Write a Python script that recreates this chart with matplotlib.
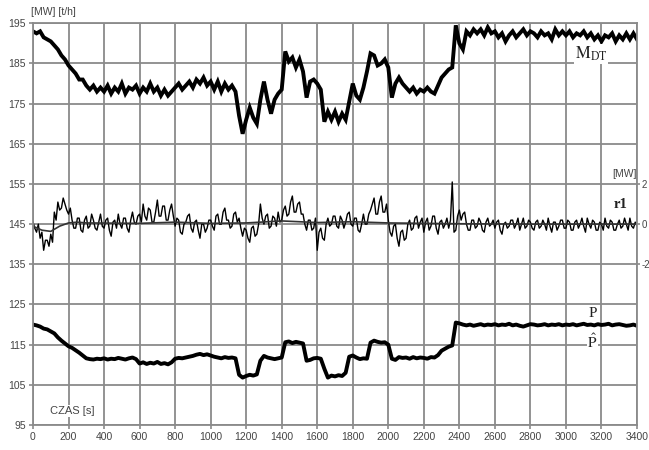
import matplotlib
matplotlib.use("Agg")
import matplotlib.pyplot as plt
import numpy as np

# time axis [s]: slow traces every 20 s, the noisy r1 trace every 10 s
t = np.arange(0, 3401, 20)
t10 = np.arange(0, 3401, 10)

# M_DT [t/h] (top trace)
mdt = [
    193, 192.5, 193, 191.5, 191, 190.5, 189.5, 188.5, 187, 186,
    184.5, 183.5, 182.5, 181, 181, 179.5, 178.5, 179.5, 178, 179,
    178, 179.5, 177.5, 179, 178, 180, 177.5, 179, 178.5, 179.5,
    177.5, 179, 178, 180, 178, 179, 177, 178.5, 177, 178,
    179, 180, 178.5, 179.5, 180.5, 179, 181, 180, 181.5, 179.5,
    180.5, 178.5, 180.5, 178, 180, 178.5, 179.5, 178, 172, 167.5,
    171, 174, 171.5, 170, 176, 180.5, 176, 172.5, 176, 177.5,
    178.5, 188, 185.5, 186.5, 184, 186, 183, 176.5, 180.5, 181,
    180, 178.5, 170.5, 173, 171, 173, 170.5, 172.5, 171, 175.5,
    180, 177, 176, 179, 183, 187.5, 187, 184.5, 185, 186,
    184, 176.5, 180, 181.5, 180, 179, 178, 179, 177.5, 178.5,
    178, 179, 178, 177.5, 179.5, 181.5, 182.5, 183.5, 184, 194.5,
    190, 188.5, 193, 192, 193.5, 192.5, 193.5, 192, 194, 192.5,
    193, 191.5, 192.5, 190.5, 192, 193, 191.5, 192.5, 193.5, 192,
    193, 192.5, 191.5, 193, 192, 192.5, 191, 193.5, 192, 193,
    192, 193, 191.5, 192.5, 192, 193, 191.5, 192.5, 191, 192,
    190.5, 192, 191.5, 192.5, 190.5, 192, 191, 192.5, 191, 192.5,
    191,
]

# r1 [MW] drawn on the 145 +/- 10 band (middle trace), 10 s samples
r1 = [
    145.5, 144, 143, 145, 141.5, 143, 138.5, 141, 141, 139.5,
    142.5, 140.5, 148, 146, 150.5, 148.5, 149, 151.5, 150, 148.5,
    147.5, 149, 146, 144, 144, 146.5, 146.5, 143.5, 143, 146,
    147, 144, 144.5, 147.5, 146, 144, 143.5, 145.5, 147.5, 144.5,
    144, 146, 146.5, 143.5, 142, 145.5, 146, 144, 147.5, 145,
    144, 146.5, 146.5, 144, 143, 146, 148, 145.5, 145, 147,
    147.5, 145.5, 150, 147, 146, 149, 148.5, 145.5, 145.5, 148,
    151, 147, 147, 149.5, 149.5, 146, 146, 148.5, 150, 147,
    144.5, 146.5, 146, 143, 142.5, 145, 145.5, 147, 147.5, 144,
    143, 145.5, 146, 143.5, 141.5, 145, 145, 143, 144, 146,
    146, 144.5, 143.5, 147, 147.5, 145, 145, 148, 149, 146,
    146, 144, 144.5, 147.5, 148, 145.5, 146.5, 144, 142, 144,
    143.5, 141.5, 140.5, 144, 144.5, 142, 142.5, 145, 150, 146.5,
    145, 147, 147.5, 144, 144.5, 147, 146.5, 144.5, 148, 145.5,
    146, 148.5, 149.5, 147, 147.5, 150.5, 152, 148, 148, 150,
    150.5, 147.5, 147.5, 145, 143.5, 146, 146, 143.5, 144, 146.5,
    138.5, 143, 144, 141.5, 141, 145, 146.5, 144.5, 145, 147,
    147, 144.5, 144, 147, 146, 144, 145.5, 147.5, 148, 145,
    144.5, 146.5, 146.5, 143.5, 143, 145, 147.5, 145, 145, 147.5,
    148.5, 150, 151.5, 147.5, 147.5, 150.5, 152, 148, 148, 150,
    146, 143, 142, 144.5, 145, 141.5, 139.5, 143, 143.5, 141,
    141.5, 145, 146, 143.5, 144, 146.5, 147, 144, 145.5, 146.5,
    143, 145.5, 146.5, 143.5, 144.5, 147, 147, 144, 142.5, 145.5,
    146, 144, 145, 146.5, 144, 146, 155.5, 143, 143.5, 147,
    148.5, 146, 147.5, 148, 145, 143.5, 143.5, 146, 146, 144,
    144.5, 146.5, 145.5, 143.5, 143, 145.5, 146.5, 144.5, 145, 146,
    144, 145.5, 146, 143.5, 142.5, 145, 145.5, 144, 144.5, 146,
    146, 144, 145, 146.5, 143.5, 145, 146.5, 144, 144.5, 146,
    145.5, 144, 143.5, 145.5, 146, 144, 144.5, 146, 145, 143.5,
    146.5, 144.5, 143, 145.5, 145.5, 143.5, 144.5, 146, 146, 144,
    144, 146, 145.5, 143.5, 143.5, 145.5, 146, 144, 145, 146.5,
    144.5, 143, 146.5, 145, 144, 146, 145.5, 143.5, 143.5, 145.5,
    145, 143.5, 146.5, 144.5, 144, 146, 145.5, 143.5, 143.5, 145,
    146, 144, 144.5, 146.5, 145, 143.5, 146.5, 144.5, 144, 145.5,
    144.5,
]

# slow r1 baseline
t_base = [0, 50, 100, 150, 200, 250, 300, 600, 800, 1000, 1200, 1400,
          1600, 1800, 2000, 2200, 2400, 2800, 3400]
r1_base = [144.5, 143.5, 143.2, 144.5, 145.3, 145.5, 145.3, 145.2, 145.5,
           145.2, 145.3, 145.8, 145.4, 145.6, 145.3, 145.2, 145.1, 145.0, 145.0]

# P [MW] (bottom trace)
p = [
    120, 119.8, 119.5, 119, 118.8, 118.3, 117.8, 116.8, 116, 115.3,
    114.6, 114.2, 113.6, 113, 112.3, 111.6, 111.4, 111.3, 111.5, 111.4,
    111.6, 111.3, 111.5, 111.4, 111.7, 111.5, 111.3, 111.6, 111.8, 111.4,
    110.3, 110.6, 110.2, 110.5, 110.3, 110.7, 110.2, 110.4, 110.1, 110.6,
    111.5, 111.7, 111.6, 111.8, 112, 112.2, 112.5, 112.7, 112.4, 112.6,
    112.3, 112, 111.8, 111.6, 111.9, 111.7, 111.8, 111.6, 107.5, 106.8,
    107.2, 107.5, 107.3, 107.6, 111, 112.2, 111.8, 111.6, 111.4, 111.6,
    111.8, 115.6, 115.8, 115.4, 115.7, 115.5, 115.3, 111, 111.2, 111.6,
    111.7, 111.5, 109, 106.8, 107.3, 107.1, 107.4, 107.2, 108, 112,
    112.3, 111.8, 111.4, 111.6, 111.5, 115.5, 116, 115.7, 115.5, 115.6,
    115, 111.5, 111.2, 111.9, 111.7, 111.8, 111.5, 111.9, 111.6, 111.8,
    111.7, 111.5, 111.9, 111.8, 112.4, 113.5, 114, 114.5, 114.8, 120.5,
    120.3, 120, 119.8, 120, 119.7, 119.9, 120.1, 119.8, 120, 119.9,
    120.1, 119.8, 120, 119.9, 120.2, 119.8, 120, 119.7, 119.5, 119.8,
    120.1, 120, 119.8, 119.9, 120.1, 119.8, 120, 119.9, 120.1, 119.8,
    120, 119.9, 120.1, 119.8, 120, 120.2, 119.9, 120, 119.8, 120.1,
    119.9, 120, 120.2, 119.8, 120, 120.1, 119.9, 119.7, 119.8, 120,
    119.7,
]

GRID = "#8a8a8a"
TXT = "#444444"

fig = plt.figure(figsize=(6.49, 4.5), dpi=100)
ax = fig.add_axes([33 / 649, 25 / 450, 604 / 649, 401.7 / 450])

ax.plot(t, mdt, color="black", lw=2.8, solid_joinstyle="miter")
ax.plot(t10, r1, color="black", lw=1.0)
ax.plot(t_base, r1_base, color="#333333", lw=1.2)
ax.plot(t, p, color="black", lw=2.8)

ax.set_xlim(0, 3400)
ax.set_ylim(95, 195)
ax.set_xticks(range(0, 3401, 200))
ax.set_yticks(range(95, 196, 10))
ax.grid(True, color=GRID, lw=1.3)
for s in ax.spines.values():
    s.set_color(GRID)
    s.set_linewidth(1.3)
ax.tick_params(direction="out", length=3, width=1.2, color=GRID,
               labelsize=7.5, labelcolor=TXT, pad=2)
for lab in ax.get_xticklabels() + ax.get_yticklabels():
    lab.set_family("Liberation Sans")

# right-hand r1 scale
ax2 = ax.twinx()
ax2.set_ylim(-10, 10)
ax2.set_yticks([-2, 0, 2])
ax2.set_yticklabels(["-2", "0", "2"])
for s in ax2.spines.values():
    s.set_visible(False)
ax2.tick_params(direction="out", length=2, width=1.2, color=GRID,
                labelsize=7, labelcolor=TXT, pad=1)
for lab in ax2.get_yticklabels():
    lab.set_family("Liberation Sans")

fig.text(31 / 649, 1 - 12 / 450, "[MW] [t/h]", fontsize=7.5, color=TXT,
         family="Liberation Sans", va="center", ha="left")
ax.text(3330, 157.5, "[MW]", fontsize=7.5, color=TXT, family="Liberation Sans",
        ha="center", va="center")
ax.text(220, 98.5, "CZAS [s]", fontsize=8, color=TXT, family="Liberation Sans",
        ha="center", va="center",
        bbox=dict(facecolor="white", edgecolor="none", pad=1))

ax.text(3140, 187.3, r"$\mathrm{M}_{\mathrm{DT}}$", fontsize=12,
        math_fontfamily="stix", color="#222222", ha="center", va="center",
        bbox=dict(facecolor="white", edgecolor="none", pad=0.5))
ax.text(3310, 150, "r1", fontsize=10.5, family="Liberation Serif",
        weight="bold", color="#222222", ha="center", va="center")
ax.text(3150, 122.8, "P", fontsize=11, family="Liberation Serif",
        color="#222222", ha="center", va="center")
ax.text(3150, 115.8, r"$\hat{\mathrm{P}}$", fontsize=11, math_fontfamily="stix",
        color="#222222", ha="center", va="center",
        bbox=dict(facecolor="white", edgecolor="none", pad=0.5))

fig.savefig("out.png", dpi=100)
